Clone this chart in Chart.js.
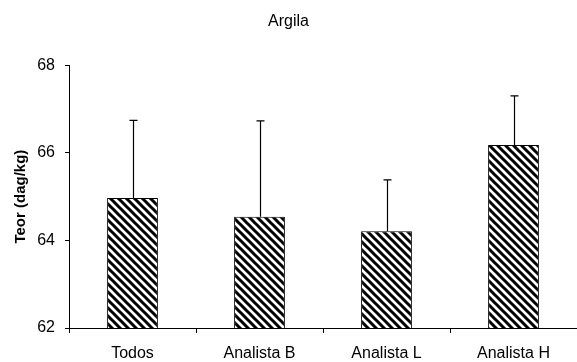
<!DOCTYPE html>
<html>
<head>
<meta charset="utf-8">
<script src="https://cdn.jsdelivr.net/npm/chart.js@4"></script>
<style>
  html, body { margin:0; padding:0; background:#fff; }
  #wrap { width:577px; height:362px; }
</style>
</head>
<body>
<div id="wrap"><canvas id="c"></canvas></div>
<script>
// values
const categories = ['Todos', 'Analista B', 'Analista L', 'Analista H'];
const means = [64.97, 64.54, 64.21, 66.18];
const upper = [66.74, 66.73, 65.38, 67.30];   // top of error bar
const yTicks = [62, 64, 66, 68];

const FONT = "'Liberation Sans', Arial, sans-serif";

// hatch fill: black "\" stripes on white
function hatch(){
  const p = document.createElement('canvas');
  p.width = 8; p.height = 8;
  const g = p.getContext('2d');
  g.fillStyle = '#fff';
  g.fillRect(0,0,8,8);
  g.strokeStyle = '#000';
  g.lineWidth = 3;
  g.beginPath();
  for (const k of [-8, 0, 8]){
    g.moveTo(k-2, -2);
    g.lineTo(k+10, 10);
  }
  g.stroke();
  return document.getElementById('c').getContext('2d').createPattern(p, 'repeat');
}

// upper-only error bars with a small cap
const errorBars = {
  id: 'errorBars',
  afterDatasetsDraw(chart){
    const ctx = chart.ctx;
    const meta = chart.getDatasetMeta(0);
    const y = chart.scales.y;
    ctx.save();
    ctx.strokeStyle = '#000';
    ctx.lineWidth = 1.2;
    meta.data.forEach((bar, i)=>{
      const x = Math.round(bar.x) + 0.5;
      const y0 = y.getPixelForValue(means[i]);
      const y1 = y.getPixelForValue(upper[i]);
      ctx.beginPath();
      ctx.moveTo(x, y0);
      ctx.lineTo(x, y1);
      ctx.moveTo(x-4, y1);
      ctx.lineTo(x+4, y1);
      ctx.stroke();
    });
    ctx.restore();
  }
};

new Chart(document.getElementById('c'), {
  type: 'bar',
  data: {
    labels: categories,
    datasets: [{
      data: means,
      backgroundColor: hatch(),
      borderColor: '#000',
      borderWidth: 1,
      barPercentage: 0.4,
      categoryPercentage: 1.0
    }]
  },
  options: {
    responsive: true,
    maintainAspectRatio: false,
    animation: false,
    layout: { padding: 0 },
    plugins: {
      legend: { display: false },
      tooltip: { enabled: false },
      title: {
        display: true,
        text: 'Argila',
        color: '#000',
        font: { family: FONT, size: 16, weight: 'normal' },
        padding: { top: 12, bottom: 34 }
      }
    },
    scales: {
      x: {
        grid: { drawOnChartArea: false, drawTicks: true, tickLength: 5, color: '#000', offset: true },
        border: { color: '#000', width: 1 },
        ticks: { color: '#000', font: { family: FONT, size: 16 }, padding: 11, maxRotation: 0 },
        afterFit(s){ s.height = 34; }
      },
      y: {
        min: 62, max: 68,
        afterBuildTicks(s){ s.ticks = yTicks.map(v=>({value:v})); },
        grid: { drawOnChartArea: false, drawTicks: true, tickLength: 4, color: '#000' },
        border: { color: '#000', width: 1 },
        ticks: { color: '#000', font: { family: FONT, size: 16 }, padding: 10 },
        title: {
          display: true,
          text: 'Teor (dag/kg)',
          color: '#000',
          font: { family: FONT, size: 15, weight: 'bold' },
          padding: { top: 12, bottom: 0 }
        },
        afterFit(s){ s.width = 69; }
      }
    }
  },
  plugins: [errorBars]
});
</script>
</body>
</html>
